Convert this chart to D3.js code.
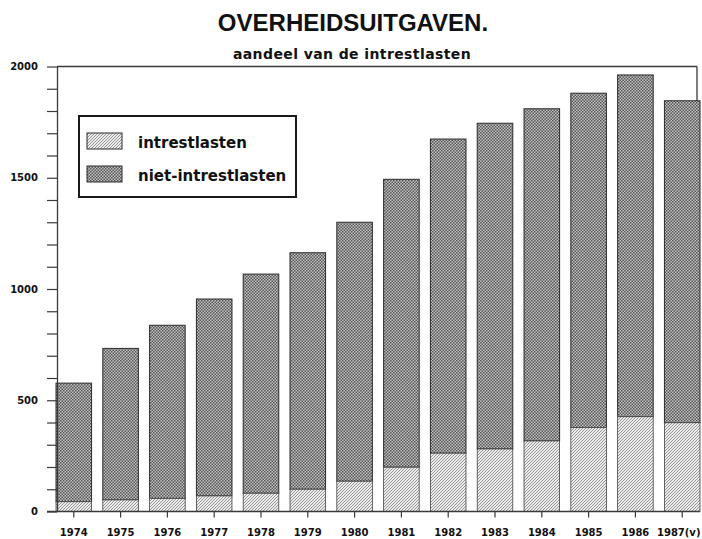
<!DOCTYPE html>
<html>
<head>
<meta charset="utf-8">
<script src="https://cdn.jsdelivr.net/npm/d3@7/dist/d3.min.js"></script>
<style>
  html, body { margin: 0; padding: 0; background: #fff; }
  svg { display: block; }
</style>
</head>
<body>
<svg id="chart" width="702" height="539"></svg>
<script>
// ---- data ----
const years = ['1974','1975','1976','1977','1978','1979','1980','1981','1982','1983','1984','1985','1986','1987(v)'];
const intrestlasten = [44, 52, 59, 70, 82, 100, 136, 199, 262, 281, 317, 377, 426, 399];
const nietIntrestlasten = [533, 681, 778, 885, 985, 1063, 1164, 1294, 1412, 1464, 1493, 1503, 1536, 1447];
const yTicks = [0,100,200,300,400,500,600,700,800,900,1000,1100,1200,1300,1400,1500,1600,1700,1800,1900,2000];
const yLabelTicks = [0, 500, 1000, 1500, 2000];
const seriesNames = ['intrestlasten', 'niet-intrestlasten'];
const title = 'OVERHEIDSUITGAVEN.';
const subtitle = 'aandeel van de intrestlasten';

const svg = d3.select('#chart');
const axisColor = '#3a3a3a';

// patterns
const defs = svg.append('defs');
const hatch = defs.append('pattern').attr('id', 'hatch')
  .attr('patternUnits', 'userSpaceOnUse').attr('width', 3).attr('height', 3);
hatch.append('rect').attr('width', 3).attr('height', 3).attr('fill', '#ececec');
hatch.append('path').attr('d', 'M0,3 L3,0 M-1,1 L1,-1 M2,4 L4,2')
  .attr('stroke', '#8c8c8c').attr('stroke-width', 0.9);

const dots = defs.append('pattern').attr('id', 'dots')
  .attr('patternUnits', 'userSpaceOnUse').attr('width', 3).attr('height', 3);
dots.append('rect').attr('width', 3).attr('height', 3).attr('fill', '#c2c2c2');
dots.append('rect').attr('x', 0).attr('y', 0).attr('width', 1.5).attr('height', 1.5).attr('fill', '#555');
dots.append('rect').attr('x', 1.5).attr('y', 1.5).attr('width', 1.5).attr('height', 1.5).attr('fill', '#555');

// scales
const x = d3.scaleBand().domain(years).range([56, 700]).paddingInner(0.24).paddingOuter(0);
const y = d3.scaleLinear().domain([0, 2000]).range([511.5, 66.5]);

// frame (top and right)
svg.append('line').attr('x1', 57).attr('x2', 697).attr('y1', y(2000)).attr('y2', y(2000))
  .attr('stroke', axisColor).attr('stroke-width', 1.3);
svg.append('line').attr('x1', 697).attr('x2', 697).attr('y1', y(2000)).attr('y2', y(0))
  .attr('stroke', axisColor).attr('stroke-width', 1.3);

// bars
const g = svg.append('g');
years.forEach((yr, i) => {
  const x0 = x(yr), w = x.bandwidth();
  const a = intrestlasten[i], b = nietIntrestlasten[i];
  g.append('rect').attr('x', x0).attr('y', y(a + b)).attr('width', w).attr('height', y(a) - y(a + b))
    .attr('fill', 'url(#dots)').attr('stroke', '#2a2a2a').attr('stroke-width', 1);
  g.append('rect').attr('x', x0).attr('y', y(a)).attr('width', w).attr('height', y(0) - y(a))
    .attr('fill', 'url(#hatch)').attr('stroke', '#444').attr('stroke-width', 0.8);
});

// y axis
const yAxis = d3.axisLeft(y).tickValues(yTicks).tickSize(10).tickSizeOuter(0).tickPadding(9)
  .tickFormat(d => yLabelTicks.includes(d) ? String(d) : '');
const ya = svg.append('g').attr('transform', 'translate(57,0)').call(yAxis);
ya.select('.domain').attr('stroke', axisColor).attr('stroke-width', 1.3);
ya.selectAll('.tick line').attr('stroke', axisColor).attr('stroke-width', 1.2);
ya.selectAll('.tick text').attr('font-family', 'DejaVu Sans').attr('font-weight', 'bold')
  .attr('font-size', 10).attr('fill', '#111');

// x axis
const xAxis = d3.axisBottom(x).tickSize(6).tickSizeOuter(0).tickPadding(11);
const xa = svg.append('g').attr('transform', `translate(0,${y(0)})`).call(xAxis);
xa.select('.domain').remove();
xa.selectAll('.tick line').attr('stroke', axisColor).attr('stroke-width', 1.2);
xa.selectAll('.tick text').attr('font-family', 'DejaVu Sans').attr('font-weight', 'bold')
  .attr('font-size', 10).attr('fill', '#111')
  .attr('dx', (d, i) => i === years.length - 1 ? -3.5 : 0);
svg.append('line').attr('x1', 47).attr('x2', 700).attr('y1', y(0)).attr('y2', y(0))
  .attr('stroke', axisColor).attr('stroke-width', 1.5);

// titles
svg.append('text').attr('x', 353).attr('y', 31).attr('text-anchor', 'middle')
  .attr('font-family', 'Liberation Sans').attr('font-weight', 'bold').attr('font-size', 24)
  .attr('fill', '#111').text(title);
svg.append('text').attr('x', 352).attr('y', 59).attr('text-anchor', 'middle')
  .attr('font-family', 'DejaVu Sans').attr('font-weight', 'bold').attr('font-size', 14)
  .attr('letter-spacing', 0.4).attr('fill', '#111').text(subtitle);

// legend
const lg = svg.append('g');
lg.append('rect').attr('x', 79).attr('y', 116).attr('width', 217).attr('height', 81)
  .attr('fill', '#fff').attr('stroke', '#1a1a1a').attr('stroke-width', 2);
const fills = ['url(#hatch)', 'url(#dots)'];
const rowY = [133, 166];
seriesNames.forEach((name, i) => {
  lg.append('rect').attr('x', 87).attr('y', rowY[i]).attr('width', 35).attr('height', 16)
    .attr('fill', fills[i]).attr('stroke', '#2a2a2a').attr('stroke-width', 1);
  lg.append('text').attr('x', 138).attr('y', rowY[i] + 14.5)
    .attr('font-family', 'DejaVu Sans').attr('font-weight', 'bold').attr('font-size', 15)
    .attr('fill', '#111').text(name);
});
</script>
</body>
</html>
